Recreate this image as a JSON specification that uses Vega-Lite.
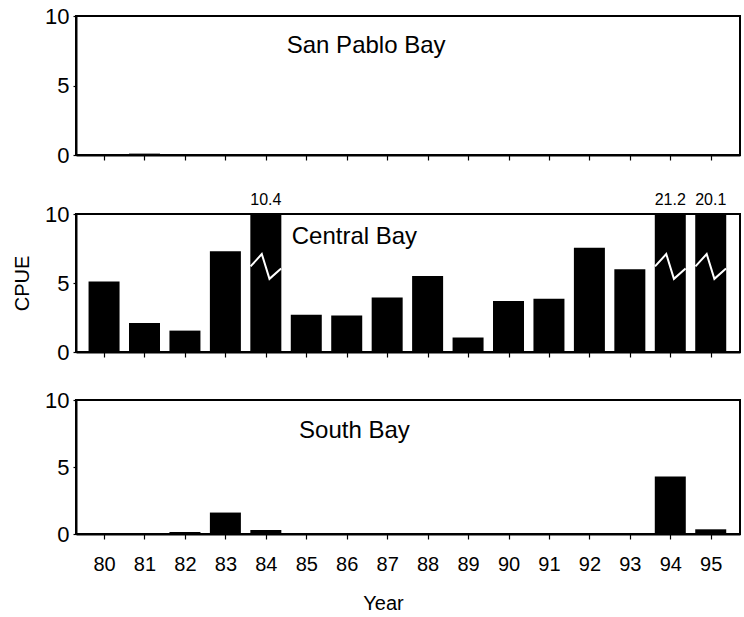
{
  "$schema": "https://vega.github.io/schema/vega-lite/v6.json",
  "padding": {"left": 11, "top": 4, "right": 5, "bottom": 5},
  "background": "white",
  "datasets": {
    "cpue": [
      {"Bay": "San Pablo Bay", "Year": 80, "CPUE": 0},
      {"Bay": "San Pablo Bay", "Year": 81, "CPUE": 0.1},
      {"Bay": "San Pablo Bay", "Year": 82, "CPUE": 0},
      {"Bay": "San Pablo Bay", "Year": 83, "CPUE": 0},
      {"Bay": "San Pablo Bay", "Year": 84, "CPUE": 0},
      {"Bay": "San Pablo Bay", "Year": 85, "CPUE": 0},
      {"Bay": "San Pablo Bay", "Year": 86, "CPUE": 0},
      {"Bay": "San Pablo Bay", "Year": 87, "CPUE": 0},
      {"Bay": "San Pablo Bay", "Year": 88, "CPUE": 0},
      {"Bay": "San Pablo Bay", "Year": 89, "CPUE": 0},
      {"Bay": "San Pablo Bay", "Year": 90, "CPUE": 0},
      {"Bay": "San Pablo Bay", "Year": 91, "CPUE": 0},
      {"Bay": "San Pablo Bay", "Year": 92, "CPUE": 0},
      {"Bay": "San Pablo Bay", "Year": 93, "CPUE": 0},
      {"Bay": "San Pablo Bay", "Year": 94, "CPUE": 0},
      {"Bay": "San Pablo Bay", "Year": 95, "CPUE": 0},
      {"Bay": "Central Bay", "Year": 80, "CPUE": 5.1},
      {"Bay": "Central Bay", "Year": 81, "CPUE": 2.1},
      {"Bay": "Central Bay", "Year": 82, "CPUE": 1.55},
      {"Bay": "Central Bay", "Year": 83, "CPUE": 7.3},
      {"Bay": "Central Bay", "Year": 84, "CPUE": 10.4},
      {"Bay": "Central Bay", "Year": 85, "CPUE": 2.7},
      {"Bay": "Central Bay", "Year": 86, "CPUE": 2.65},
      {"Bay": "Central Bay", "Year": 87, "CPUE": 3.95},
      {"Bay": "Central Bay", "Year": 88, "CPUE": 5.5},
      {"Bay": "Central Bay", "Year": 89, "CPUE": 1.05},
      {"Bay": "Central Bay", "Year": 90, "CPUE": 3.7},
      {"Bay": "Central Bay", "Year": 91, "CPUE": 3.85},
      {"Bay": "Central Bay", "Year": 92, "CPUE": 7.55},
      {"Bay": "Central Bay", "Year": 93, "CPUE": 6.0},
      {"Bay": "Central Bay", "Year": 94, "CPUE": 21.2},
      {"Bay": "Central Bay", "Year": 95, "CPUE": 20.1},
      {"Bay": "South Bay", "Year": 80, "CPUE": 0},
      {"Bay": "South Bay", "Year": 81, "CPUE": 0},
      {"Bay": "South Bay", "Year": 82, "CPUE": 0.15},
      {"Bay": "South Bay", "Year": 83, "CPUE": 1.6},
      {"Bay": "South Bay", "Year": 84, "CPUE": 0.3},
      {"Bay": "South Bay", "Year": 85, "CPUE": 0},
      {"Bay": "South Bay", "Year": 86, "CPUE": 0},
      {"Bay": "South Bay", "Year": 87, "CPUE": 0},
      {"Bay": "South Bay", "Year": 88, "CPUE": 0},
      {"Bay": "South Bay", "Year": 89, "CPUE": 0},
      {"Bay": "South Bay", "Year": 90, "CPUE": 0},
      {"Bay": "South Bay", "Year": 91, "CPUE": 0},
      {"Bay": "South Bay", "Year": 92, "CPUE": 0},
      {"Bay": "South Bay", "Year": 93, "CPUE": 0},
      {"Bay": "South Bay", "Year": 94, "CPUE": 4.3},
      {"Bay": "South Bay", "Year": 95, "CPUE": 0.35}
    ],
    "breaks": [
      {"Bar": 84, "Year": 83.622, "v": 6.2},
      {"Bar": 84, "Year": 83.90, "v": 7.1},
      {"Bar": 84, "Year": 84.09, "v": 5.3},
      {"Bar": 84, "Year": 84.378, "v": 6.05},
      {"Bar": 94, "Year": 93.622, "v": 6.2},
      {"Bar": 94, "Year": 93.90, "v": 7.1},
      {"Bar": 94, "Year": 94.09, "v": 5.3},
      {"Bar": 94, "Year": 94.378, "v": 6.05},
      {"Bar": 95, "Year": 94.622, "v": 6.2},
      {"Bar": 95, "Year": 94.90, "v": 7.1},
      {"Bar": 95, "Year": 95.09, "v": 5.3},
      {"Bar": 95, "Year": 95.378, "v": 6.05}
    ]
  },
  "config": {
    "font": "Liberation Sans",
    "view": {"stroke": "black", "strokeWidth": 2},
    "axis": {
      "domainColor": "black", "domainWidth": 2,
      "tickColor": "black", "tickWidth": 1.2,
      "labelColor": "black", "titleColor": "black",
      "labelFont": "Liberation Sans", "titleFont": "Liberation Sans",
      "labelFontSize": 20, "titleFontSize": 20, "titleFontWeight": "normal",
      "grid": false
    },
    "axisY": {"labelFontSize": 22},
    "text": {"font": "Liberation Sans", "color": "black"},
    "concat": {"spacing": 24}
  },
  "vconcat": [
    {
      "width": 664, "height": 139,
      "layer": [
        {
          "data": {"name": "cpue"},
          "transform": [{"filter": "datum.Bay === 'San Pablo Bay'"}],
          "mark": {"type": "bar", "color": "black", "width": 31},
          "encoding": {
            "x": {"field": "Year", "type": "quantitative",
              "scale": {"domain": [79.43, 95.6], "nice": false, "zero": false},
              "axis": {"values": [80,81,82,83,84,85,86,87,88,89,90,91,92,93,94,95], "labels": false, "title": null, "tickSize": 5}},
            "y": {"field": "CPUE", "type": "quantitative",
              "scale": {"domain": [0, 10], "nice": false, "clamp": true},
              "axis": {"values": [0, 5, 10], "title": null, "tickSize": 3, "labelPadding": 4}}
          }
        },
        {
          "data": {"values": [{"Bay": "San Pablo Bay"}]},
          "mark": {"type": "text", "fontSize": 24, "baseline": "middle", "align": "center"},
          "encoding": {
            "x": {"datum": 86.48, "type": "quantitative"},
            "y": {"datum": 7.85, "type": "quantitative"},
            "text": {"field": "Bay"}
          }
        }
      ]
    },
    {
      "width": 664, "height": 138,
      "layer": [
        {
          "data": {"name": "cpue"},
          "transform": [{"filter": "datum.Bay === 'Central Bay'"}],
          "mark": {"type": "bar", "color": "black", "width": 31},
          "encoding": {
            "x": {"field": "Year", "type": "quantitative",
              "scale": {"domain": [79.43, 95.6], "nice": false, "zero": false},
              "axis": {"values": [80,81,82,83,84,85,86,87,88,89,90,91,92,93,94,95], "labels": false, "title": null, "tickSize": 5}},
            "y": {"field": "CPUE", "type": "quantitative",
              "scale": {"domain": [0, 10], "nice": false, "clamp": true},
              "axis": {"values": [0, 5, 10], "title": "CPUE", "titlePadding": 12, "tickSize": 3, "labelPadding": 4}}
          }
        },
        {
          "data": {"name": "breaks"},
          "mark": {"type": "line", "color": "white", "strokeWidth": 2},
          "encoding": {
            "x": {"field": "Year", "type": "quantitative"},
            "y": {"field": "v", "type": "quantitative"},
            "detail": {"field": "Bar"}
          }
        },
        {
          "data": {"name": "cpue"},
          "transform": [{"filter": "datum.Bay === 'Central Bay' && datum.CPUE > 10"}],
          "mark": {"type": "text", "fontSize": 16, "baseline": "alphabetic", "align": "center", "dy": -9},
          "encoding": {
            "x": {"field": "Year", "type": "quantitative"},
            "y": {"field": "CPUE", "type": "quantitative"},
            "text": {"field": "CPUE", "format": ".1f"}
          }
        },
        {
          "data": {"values": [{"Bay": "Central Bay"}]},
          "mark": {"type": "text", "fontSize": 24, "baseline": "middle", "align": "center"},
          "encoding": {
            "x": {"datum": 86.19, "type": "quantitative"},
            "y": {"datum": 8.3, "type": "quantitative"},
            "text": {"field": "Bay"}
          }
        }
      ]
    },
    {
      "width": 664, "height": 134,
      "layer": [
        {
          "data": {"name": "cpue"},
          "transform": [{"filter": "datum.Bay === 'South Bay'"}],
          "mark": {"type": "bar", "color": "black", "width": 31},
          "encoding": {
            "x": {"field": "Year", "type": "quantitative",
              "scale": {"domain": [79.43, 95.6], "nice": false, "zero": false},
              "axis": {"values": [80,81,82,83,84,85,86,87,88,89,90,91,92,93,94,95], "format": "d", "title": "Year", "tickSize": 5, "labelPadding": 15, "titlePadding": 19, "titleX": 307}},
            "y": {"field": "CPUE", "type": "quantitative",
              "scale": {"domain": [0, 10], "nice": false, "clamp": true},
              "axis": {"values": [0, 5, 10], "title": null, "tickSize": 3, "labelPadding": 4}}
          }
        },
        {
          "data": {"values": [{"Bay": "South Bay"}]},
          "mark": {"type": "text", "fontSize": 24, "baseline": "middle", "align": "center"},
          "encoding": {
            "x": {"datum": 86.19, "type": "quantitative"},
            "y": {"datum": 7.7, "type": "quantitative"},
            "text": {"field": "Bay"}
          }
        }
      ]
    }
  ]
}
